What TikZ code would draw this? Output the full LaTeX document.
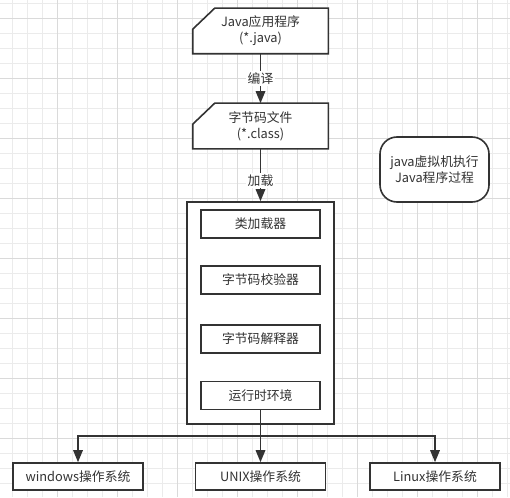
\documentclass[tikz,border=0pt]{standalone}
\usepackage{fontspec}
\setmainfont{Noto Sans CJK SC}
\usepackage{xcolor}
\usepackage{tikz}
\usetikzlibrary{arrows.meta}
\definecolor{Encre}{HTML}{333333}
\definecolor{GrilleFine}{HTML}{EBEBEB}
\definecolor{GrilleForte}{HTML}{DADADA}
\pgfdeclarelayer{grille}
\pgfdeclarelayer{fond}
\pgfsetlayers{grille,fond,main}
\tikzset{
Boite/.style={
 draw=Encre,
 fill=white,
 line width=1.6pt,
 text=Encre,
 align=center,
 inner sep=0pt,
 font=\fontsize{12.8}{16}\selectfont
 },
Carte/.style={
 Boite,
 draw=none,
 fill=none,
 minimum width=134pt,
 minimum height=44pt
 },
Module/.style={
 Boite,
 minimum width=119pt,
 minimum height=28pt
 },
Systeme/.style={
 Boite,
 minimum width=130pt,
 minimum height=27pt
 },
Note/.style={
 Boite,
 rounded corners=17pt,
 minimum width=109pt,
 minimum height=65pt
 },
Trait/.style={
 draw=Encre,
 line width=1.6pt
 },
Fleche/.style={
 Trait,
 -{Triangle[width=9.5pt,length=12pt]}
 },
Etiquette/.style={
 fill=white,
 text=Encre,
 inner sep=1.5pt,
 font=\fontsize{12.8}{16}\selectfont
 },
GrilleMineure/.style={draw=GrilleFine, line width=0.9pt},
GrilleMajeure/.style={draw=GrilleForte, line width=0.9pt}
}
\newcommand{\cadrecarte}[1]{%
\begin{pgfonlayer}{fond}
\filldraw[Trait,fill=white] ([xshift=22pt]#1.north west) -- (#1.north east) -- (#1.south east) -- (#1.south west) -- ([yshift=-21pt]#1.north west) -- cycle;
\end{pgfonlayer}}
\begin{document}
\begin{tikzpicture}[x=1pt,y=-1pt]
\useasboundingbox (0,0) rectangle (510,497);
\begin{pgfonlayer}{grille}
\fill[white] (0,0) rectangle (510,497);
\foreach \gx in {12.3,27.3,...,510} \draw[GrilleMineure] (\gx,0) -- (\gx,497);
\foreach \gy in {3.3,18.3,...,497} \draw[GrilleMineure] (0,\gy) -- (510,\gy);
\foreach \gx in {57.3,117.3,...,510} \draw[GrilleMajeure] (\gx,0) -- (\gx,497);
\foreach \gy in {18.3,78.3,...,497} \draw[GrilleMajeure] (0,\gy) -- (510,\gy);
\end{pgfonlayer}

\node[Carte] (appli) at (260.5,31) {Java应用程序\\(*.java)};
\cadrecarte{appli}
\node[Carte] (bytecode) at (260.5,126) {字节码文件\\(*.class)};
\cadrecarte{bytecode}
\node[Boite,minimum width=147pt,minimum height=222pt] (jvm) at (260.5,313) {};
\node[Module] (chargeur) at (260.5,224) {类加载器};
\node[Module] (verif) at (260.5,280) {字节码校验器};
\node[Module] (interp) at (260.5,339) {字节码解释器};
\node[Module] (runtime) at (260.5,395.5) {运行时环境};
\node[Note] (note) at (434.5,169.5) {java虚拟机执行\\Java程序过程};
\node[Systeme] (windows) at (78,476.5) {windows操作系统};
\node[Systeme] (unix) at (260.5,476.5) {UNIX操作系统};
\node[Systeme] (linux) at (435,476.5) {Linux操作系统};
\coordinate (partage) at (260.5,436);

\draw[Fleche] (appli) -- node[Etiquette] {编译} (bytecode);
\draw[Fleche] (bytecode) -- node[Etiquette,pos=0.6] {加载} (jvm);
\draw[Trait] (runtime) -- (partage);
\draw[Fleche] (partage) -| (windows);
\draw[Fleche] (partage) -- (unix);
\draw[Fleche] (partage) -| (linux);
\end{tikzpicture}
\end{document}
